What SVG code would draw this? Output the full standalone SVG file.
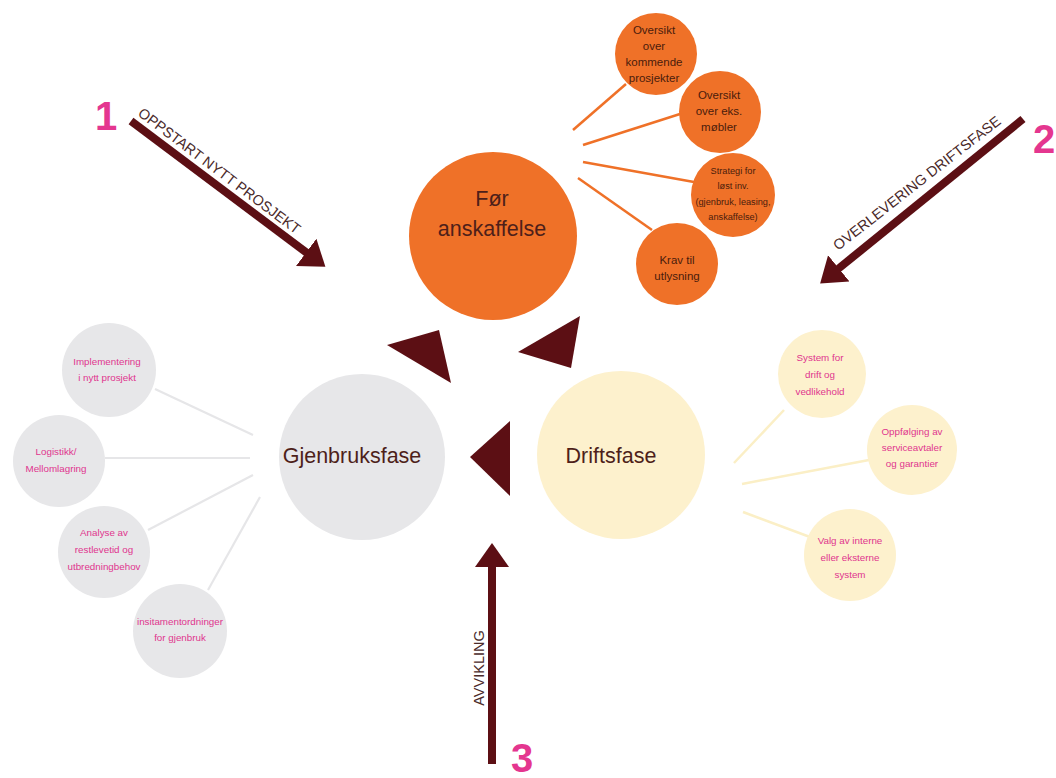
<svg xmlns="http://www.w3.org/2000/svg" width="1056" height="778" viewBox="0 0 1056 778">
<style>
.bg{fill:#ffffff}
.orange{fill:#ef7128}
.gray{fill:#e7e7e9}
.yellow{fill:#fdf1cd}
.main{font-family:"Liberation Sans",Arial,sans-serif;font-size:21.5px;fill:#4e1f1a;text-anchor:middle}
.otxt{font-family:"Liberation Sans",Arial,sans-serif;font-size:11.5px;fill:#4a1c0c;text-anchor:middle}
.otxs{font-family:"Liberation Sans",Arial,sans-serif;font-size:9.2px;fill:#4a1c0c;text-anchor:middle}
.mtxt{font-family:"Liberation Sans",Arial,sans-serif;font-size:9.8px;fill:#e0358e;text-anchor:middle}
.lo{stroke:#ef7128;stroke-width:2.5;fill:none}
.lg{stroke:#e6e6e8;stroke-width:2.2;fill:none}
.ly{stroke:#fbefc6;stroke-width:2.5;fill:none}
.arr{stroke:#5c0f14;stroke-width:8;fill:none}
.tri{fill:#5c0f14}
.alab{font-family:"Liberation Sans",Arial,sans-serif;font-size:14.5px;fill:#4a2a2a}
.num{font-family:"Liberation Sans",Arial,sans-serif;font-size:40px;font-weight:bold;fill:#e4368f}
</style>
<defs>
<marker id="head" viewBox="0 -18 24 36" markerWidth="24" markerHeight="36" refX="1" refY="0" orient="auto" markerUnits="userSpaceOnUse">
<path d="M0,-17 L24,0 L0,17 z" fill="#5c0f14"/>
</marker>
</defs>
<rect class="bg" x="0" y="0" width="1056" height="778"/>

<g id="connectors">
<line class="lo" x1="573" y1="130" x2="626" y2="84"/>
<line class="lo" x1="583" y1="145" x2="680" y2="114"/>
<line class="lo" x1="583" y1="162" x2="694" y2="182"/>
<line class="lo" x1="578" y1="178" x2="652" y2="230"/>
<line class="lg" x1="155" y1="389" x2="253" y2="435"/>
<line class="lg" x1="105" y1="458" x2="250" y2="458"/>
<line class="lg" x1="148" y1="530" x2="253" y2="475"/>
<line class="lg" x1="208" y1="590" x2="260" y2="497"/>
<line class="ly" x1="734" y1="463" x2="784" y2="410"/>
<line class="ly" x1="742" y1="484" x2="869" y2="460"/>
<line class="ly" x1="743" y1="512" x2="810" y2="537"/>
<line class="arr" x1="131" y1="121" x2="307" y2="253" marker-end="url(#head)"/>
<line class="arr" x1="1023" y1="119" x2="838" y2="269" marker-end="url(#head)"/>
<line class="arr" x1="492" y1="764" x2="492" y2="566" marker-end="url(#head)"/>
<polygon class="tri" points="387,345 439,330 451,383"/>
<polygon class="tri" points="518,352 580,316 571,368"/>
<polygon class="tri" points="470,457 510,421 510,496"/>
<text class="alab" transform="translate(137,115) rotate(37)">OPPSTART NYTT PROSJEKT</text>
<text class="alab" transform="translate(838,251) rotate(-38)">OVERLEVERING DRIFTSFASE</text>
<text class="alab" transform="translate(484,668) rotate(-90)" text-anchor="middle">AVVIKLING</text>
<text class="num" x="95" y="130">1</text>
<text class="num" x="1033" y="153">2</text>
<text class="num" x="511" y="772">3</text>
</g>

<g id="node-for-anskaffelse">
<circle class="orange" cx="493" cy="236" r="84"/>
<text class="main" x="492" y="206">Før</text>
<text class="main" x="492" y="236">anskaffelse</text>
</g>
<g id="node-gjenbruksfase">
<circle class="gray" cx="362" cy="457" r="83"/>
<text class="main" x="352" y="463">Gjenbruksfase</text>
</g>
<g id="node-driftsfase">
<circle class="yellow" cx="621" cy="455" r="84"/>
<text class="main" x="611" y="463">Driftsfase</text>
</g>

<g id="node-oversikt-kommende">
<circle class="orange" cx="656" cy="54" r="41"/>
<text class="otxt" x="654" y="34">Oversikt</text>
<text class="otxt" x="654" y="50">over</text>
<text class="otxt" x="654" y="66">kommende</text>
<text class="otxt" x="654" y="82">prosjekter</text>
</g>
<g id="node-oversikt-mobler">
<circle class="orange" cx="720" cy="112" r="41"/>
<text class="otxt" x="719" y="99">Oversikt</text>
<text class="otxt" x="719" y="115">over eks.</text>
<text class="otxt" x="719" y="131">møbler</text>
</g>
<g id="node-strategi">
<circle class="orange" cx="733" cy="195" r="42"/>
<text class="otxs" x="733" y="174">Strategi for</text>
<text class="otxs" x="733" y="189">løst inv.</text>
<text class="otxs" x="733" y="205">(gjenbruk, leasing,</text>
<text class="otxs" x="733" y="220">anskaffelse)</text>
</g>
<g id="node-krav">
<circle class="orange" cx="677" cy="264" r="41"/>
<text class="otxt" x="677" y="264">Krav til</text>
<text class="otxt" x="677" y="280">utlysning</text>
</g>

<g id="node-implementering">
<circle class="gray" cx="109" cy="370" r="47"/>
<text class="mtxt" x="107" y="365">Implementering</text>
<text class="mtxt" x="107" y="381">i nytt prosjekt</text>
</g>
<g id="node-logistikk">
<circle class="gray" cx="59" cy="461" r="46"/>
<text class="mtxt" x="56" y="455">Logistikk/</text>
<text class="mtxt" x="56" y="472">Mellomlagring</text>
</g>
<g id="node-analyse">
<circle class="gray" cx="104" cy="552" r="46"/>
<text class="mtxt" x="104" y="536">Analyse av</text>
<text class="mtxt" x="104" y="553">restlevetid og</text>
<text class="mtxt" x="104" y="570">utbredningbehov</text>
</g>
<g id="node-insitament">
<circle class="gray" cx="180" cy="631" r="47"/>
<text class="mtxt" x="180" y="625">insitamentordninger</text>
<text class="mtxt" x="180" y="641">for gjenbruk</text>
</g>

<g id="node-system-drift">
<circle class="yellow" cx="822" cy="374" r="44"/>
<text class="mtxt" x="820" y="361">System for</text>
<text class="mtxt" x="820" y="378">drift og</text>
<text class="mtxt" x="820" y="395">vedlikehold</text>
</g>
<g id="node-oppfolging">
<circle class="yellow" cx="912" cy="450" r="45"/>
<text class="mtxt" x="912" y="435">Oppfølging av</text>
<text class="mtxt" x="912" y="451">serviceavtaler</text>
<text class="mtxt" x="912" y="467">og garantier</text>
</g>
<g id="node-valg">
<circle class="yellow" cx="850" cy="555" r="46"/>
<text class="mtxt" x="850" y="544">Valg av interne</text>
<text class="mtxt" x="850" y="561">eller eksterne</text>
<text class="mtxt" x="850" y="578">system</text>
</g>
</svg>
